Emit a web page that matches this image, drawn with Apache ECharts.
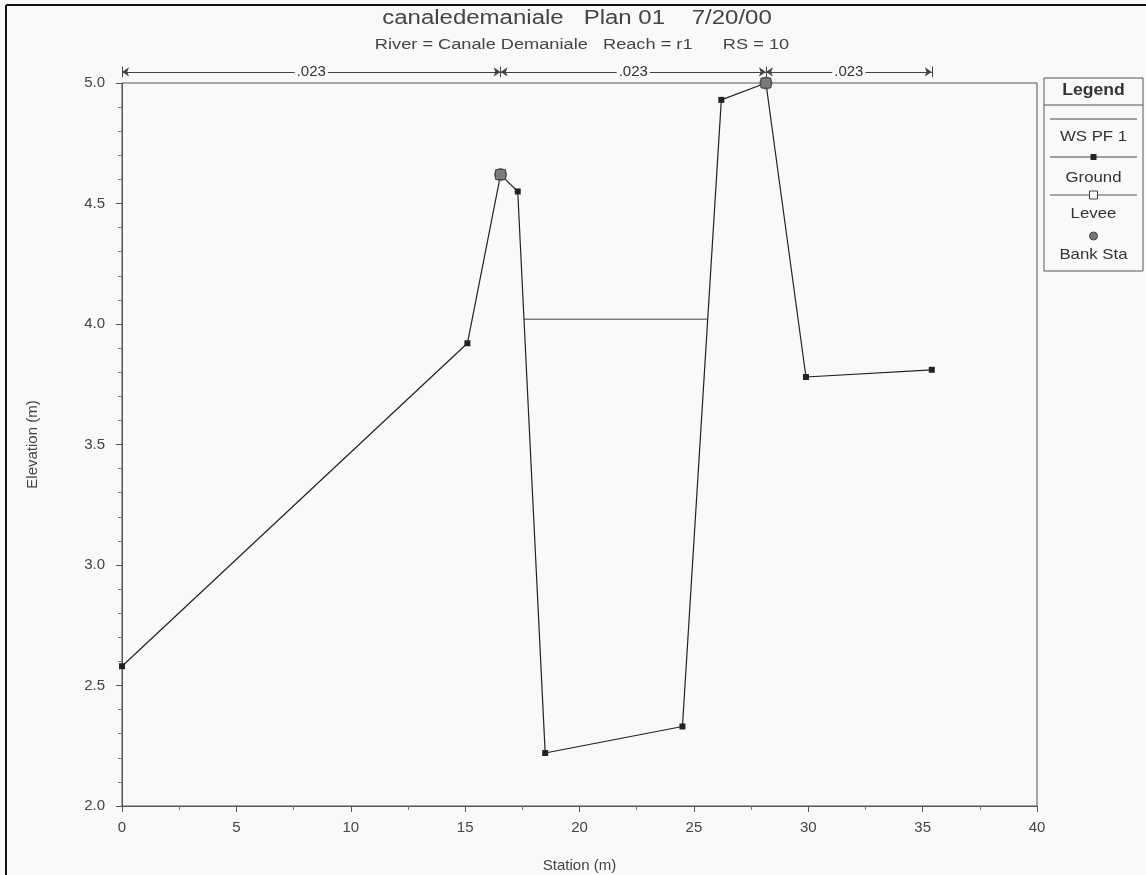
<!DOCTYPE html>
<html>
<head>
<meta charset="utf-8">
<script src="https://cdn.jsdelivr.net/npm/echarts@6/dist/echarts.min.js"></script>
<style>
html,body{margin:0;padding:0;background:#fbf8fc;}
#chart{width:1146px;height:875px;}
</style>
</head>
<body>
<div id="chart"></div>
<script>
// ---- data ----
const groundStation = [0, 15.1, 16.55, 17.3, 18.5, 24.5, 26.2, 28.15, 29.9, 35.4];
const groundElev    = [2.58, 3.92, 4.62, 4.55, 2.22, 2.33, 4.93, 5.0, 3.78, 3.81];
const wsStation = [17.57, 25.6];
const wsElev    = [4.02, 4.02];
const leveeStation = [16.55, 28.15];
const leveeElev    = [4.62, 5.0];
const bankStation = [16.55, 28.15];
const bankElev    = [4.62, 5.0];
const nBounds = [0, 16.55, 28.15, 35.4];
const nValues = ['.023', '.023', '.023'];
const xTicks = [0, 5, 10, 15, 20, 25, 30, 35, 40];
const yTicks = [2.0, 2.5, 3.0, 3.5, 4.0, 4.5, 5.0];
const titleText = 'canaledemaniale   Plan 01    7/20/00';
const subtitleText = 'River = Canale Demaniale   Reach = r1      RS = 10';
const legendNames = ['WS PF 1', 'Ground', 'Levee', 'Bank Sta'];

const BG = '#fbf8fc';
const FONT = 'Liberation Sans, Arial, sans-serif';
const nRowY = 5.046;

const zip = (a, b) => a.map((v, i) => [v, b[i]]);

const nLines = nValues.map((v, i) => ({
  name: v,
  coords: [[nBounds[i], nRowY], [nBounds[i + 1], nRowY]]
}));
const nTicks = nBounds.map(b => ({
  name: '',
  coords: [[b, nRowY - 0.022], [b, nRowY + 0.022]]
}));

const chart = echarts.init(document.getElementById('chart'));
const legX = 1044, legW = 99, legC = legX + legW / 2;
const legText = (t, y) => ({type: 'text', x: legC, y: y, scaleX: 1.12,
  style: {text: t, fontFamily: FONT, fontSize: 15, fill: '#333', align: 'center', verticalAlign: 'middle'}});

chart.setOption({
  backgroundColor: BG,
  animation: false,
  grid: {left: 122, right: 109, top: 83, bottom: 69, outerBoundsMode: 'none', containLabel: false,
         show: true, borderColor: '#555', borderWidth: 1, backgroundColor: 'transparent'},
  xAxis: {
    type: 'value', min: xTicks[0], max: xTicks[xTicks.length - 1], interval: 5,
    name: 'Station (m)', nameLocation: 'middle', nameGap: 52,
    nameTextStyle: {fontFamily: FONT, fontSize: 15, color: '#444'},
    axisLine: {show: true, lineStyle: {color: '#555'}},
    axisTick: {show: true, length: 6, lineStyle: {color: '#555'}},
    minorTick: {show: true, splitNumber: 2, length: 4, lineStyle: {color: '#777'}},
    splitLine: {show: false},
    axisLabel: {fontFamily: FONT, fontSize: 15, color: '#444', margin: 14}
  },
  yAxis: {
    type: 'value', min: yTicks[0], max: yTicks[yTicks.length - 1], interval: 0.5,
    name: 'Elevation (m)', nameLocation: 'middle', nameGap: 82,
    nameTextStyle: {fontFamily: FONT, fontSize: 15, color: '#444'},
    axisLine: {show: true, lineStyle: {color: '#555'}},
    axisTick: {show: true, length: 6, lineStyle: {color: '#555'}},
    minorTick: {show: true, splitNumber: 5, length: 4, lineStyle: {color: '#777'}},
    splitLine: {show: false},
    axisLabel: {fontFamily: FONT, fontSize: 15, color: '#444', margin: 17, formatter: v => v.toFixed(1)}
  },
  series: [
    {name: legendNames[0], type: 'line', data: zip(wsStation, wsElev), showSymbol: false, symbol: 'none',
     lineStyle: {color: '#444', width: 1}, z: 2},
    {name: legendNames[1], type: 'line', data: zip(groundStation, groundElev), symbol: 'rect', symbolSize: 6,
     itemStyle: {color: '#222'}, lineStyle: {color: '#222', width: 1.2}, clip: false, z: 3},
    {name: legendNames[3], type: 'scatter', data: zip(bankStation, bankElev), symbol: 'circle', symbolSize: 12,
     itemStyle: {color: '#999', borderColor: '#444', borderWidth: 1}, clip: false, z: 4},
    {name: legendNames[2], type: 'scatter', data: zip(leveeStation, leveeElev), symbol: 'rect', symbolSize: 10,
     itemStyle: {color: '#777', borderColor: '#333', borderWidth: 1}, clip: false, z: 5},
    {name: 'n', type: 'lines', coordinateSystem: 'cartesian2d', clip: false, z: 6,
     data: nLines, symbol: ['arrow', 'arrow'], symbolSize: 7,
     lineStyle: {color: '#444', width: 1, opacity: 1},
     label: {show: true, position: 'middle', formatter: p => p.name, distance: -7,
             fontFamily: FONT, fontSize: 15, color: '#333', opacity: 1, backgroundColor: BG, padding: [0, 2]}},
    {name: 'nTicks', type: 'lines', coordinateSystem: 'cartesian2d', clip: false, z: 6,
     data: nTicks, symbol: ['none', 'none'], lineStyle: {color: '#444', width: 1, opacity: 1}}
  ],
  graphic: [
    {type: 'line', shape: {x1: 6, y1: 5, x2: 1146, y2: 5}, style: {stroke: '#111', lineWidth: 2}},
    {type: 'line', shape: {x1: 6, y1: 5, x2: 6, y2: 875}, style: {stroke: '#111', lineWidth: 2}},
    {type: 'text', x: 577, y: 18, scaleX: 1.2,
     style: {text: titleText, fontFamily: FONT, fontSize: 20, fill: '#444', align: 'center', verticalAlign: 'middle'}},
    {type: 'text', x: 582, y: 45, scaleX: 1.3,
     style: {text: subtitleText, fontFamily: FONT, fontSize: 14, fill: '#444', align: 'center', verticalAlign: 'middle'}},
    {type: 'rect', shape: {x: legX, y: 78, width: legW, height: 193}, style: {fill: BG, stroke: '#555', lineWidth: 1}},
    {type: 'text', x: legC, y: 91, scaleX: 1.1, style: {text: 'Legend', fontFamily: FONT, fontSize: 16, fontWeight: 'bold', fill: '#333', align: 'center', verticalAlign: 'middle'}},
    {type: 'line', shape: {x1: legX, y1: 105, x2: legX + legW, y2: 105}, style: {stroke: '#555', lineWidth: 1}},
    {type: 'line', shape: {x1: legX + 6, y1: 119, x2: legX + legW - 6, y2: 119}, style: {stroke: '#444', lineWidth: 1}},
    legText(legendNames[0], 137),
    {type: 'line', shape: {x1: legX + 6, y1: 157, x2: legX + legW - 6, y2: 157}, style: {stroke: '#444', lineWidth: 1}},
    {type: 'rect', shape: {x: legC - 3, y: 154, width: 6, height: 6}, style: {fill: '#222'}},
    legText(legendNames[1], 178),
    {type: 'line', shape: {x1: legX + 6, y1: 195, x2: legX + legW - 6, y2: 195}, style: {stroke: '#555', lineWidth: 1}},
    {type: 'rect', shape: {x: legC - 4, y: 191, width: 8, height: 8}, style: {fill: BG, stroke: '#444', lineWidth: 1}},
    legText(legendNames[2], 214),
    {type: 'circle', shape: {cx: legC, cy: 236, r: 4}, style: {fill: '#777', stroke: '#444', lineWidth: 1}},
    legText(legendNames[3], 255)
  ]
});
</script>
</body>
</html>
